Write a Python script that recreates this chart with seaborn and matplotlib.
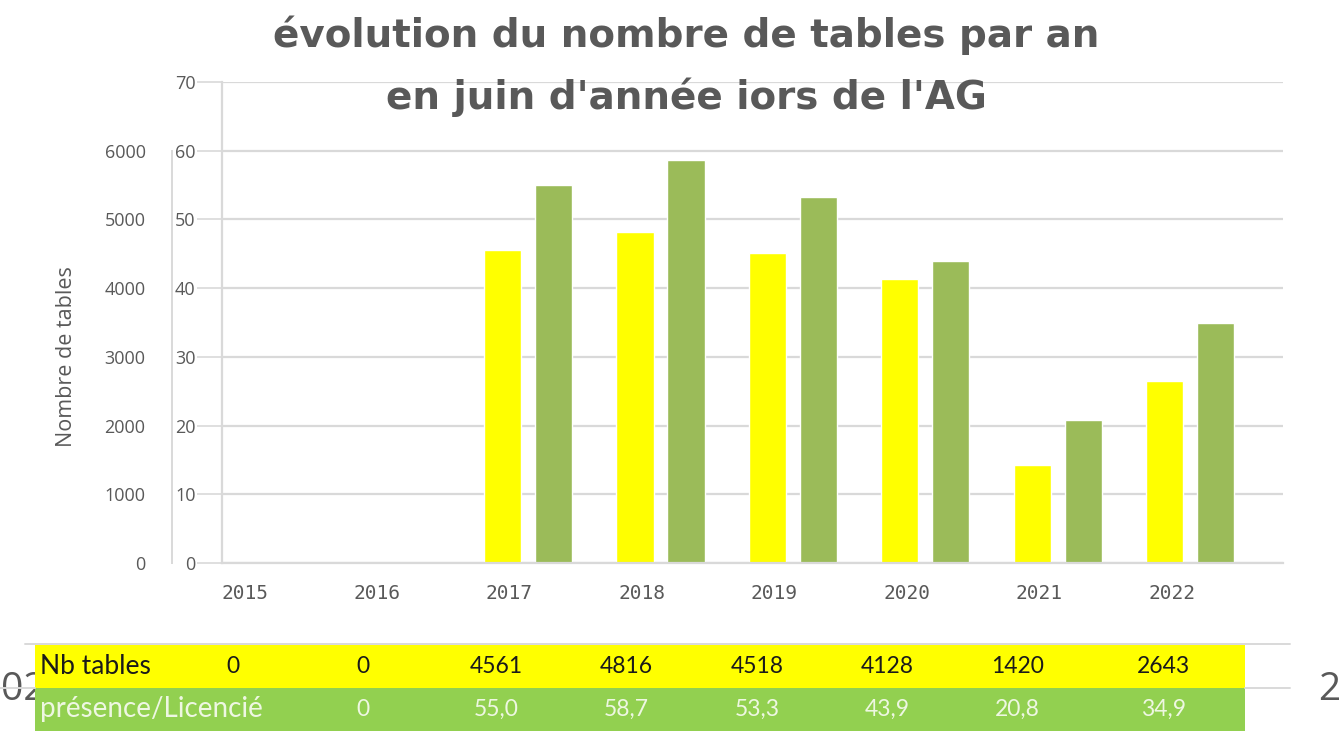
import matplotlib
matplotlib.use('Agg')
import matplotlib.pyplot as plt
import seaborn as sns
import pandas as pd
from matplotlib.lines import Line2D

# data
years = ['2015', '2016', '2017', '2018', '2019', '2020', '2021', '2022']
nb_tables = [0, 0, 4561, 4816, 4518, 4128, 1420, 2643]
presence = [0, 0, 55.0, 58.7, 53.3, 43.9, 20.8, 34.9]
presence_txt = ['', '0', '55,0', '58,7', '53,3', '43,9', '20,8', '34,9']

sns.set_theme(style='white')
plt.rcParams['font.family'] = ['Open Sans', 'DejaVu Sans']

GREY = '#595959'
GRID = '#d9d9d9'
YELLOW = '#ffff00'
OLIVE = '#9bbb59'
TBL_GREEN = '#92d050'
W, H = 1339, 731

fig = plt.figure(figsize=(W / 100, H / 100), dpi=100)

def px_axes(x0, y0, x1, y1):
    return fig.add_axes([x0 / W, 1 - y1 / H, (x1 - x0) / W, (y1 - y0) / H])

# main chart: both series on the 0-70 scale (tables shown in hundreds)
ax = px_axes(222, 82, 1283, 563)
df = pd.DataFrame({
    'pos': list(range(len(years))) * 2,
    'val': [v / 100 for v in nb_tables] + presence,
    'serie': ['Nb tables'] * len(years) + ['présence/Licencié'] * len(years),
})
sns.barplot(data=df, x='pos', y='val', hue='serie', native_scale=True,
            palette=[YELLOW, OLIVE], width=0.77, gap=0.27, saturation=1,
            legend=False, ax=ax)
ax.set_xlim(-0.31, 7.70)
ax.set_ylim(0, 70)
ax.set_yticks(range(0, 71, 10))
ax.set_xticks([i - 0.14 for i in range(len(years))])
ax.set_xticklabels(years)
ax.set_xlabel('')
ax.set_ylabel('')
ax.grid(axis='y', color=GRID, linewidth=1.6)
ax.set_axisbelow(True)
for s in ['top', 'right']:
    ax.spines[s].set_visible(False)
ax.spines['left'].set_color(GRID)
ax.spines['bottom'].set_color(GRID)
ax.spines['left'].set_linewidth(1.6)
ax.spines['bottom'].set_linewidth(1.6)
ax.tick_params(axis='y', length=18, width=1.2, color=GRID, pad=1,
               labelsize=13, labelcolor=GREY)
ax.tick_params(axis='x', length=0, pad=15, labelsize=14, labelcolor=GREY)
for t in ax.get_xticklabels():
    t.set_fontfamily(['DejaVu Sans Mono', 'DejaVu Sans'])

# second scale from the overlaid chart: number of tables
ax_t = ax.twinx()
ax_t.set_ylim(0, 7000)
ax_t.set_yticks(range(0, 6001, 1000))
ax_t.yaxis.set_ticks_position('left')
ax_t.yaxis.set_label_position('left')
for s in ['top', 'right', 'bottom']:
    ax_t.spines[s].set_visible(False)
ax_t.spines['left'].set_position(('outward', 36))
ax_t.spines['left'].set_bounds(0, 6000)
ax_t.spines['left'].set_color(GRID)
ax_t.spines['left'].set_linewidth(1.4)
ax_t.tick_params(axis='y', length=0, pad=19, labelsize=13, labelcolor=GREY)
ax_t.set_ylabel('Nombre de tables', fontsize=15.5, color=GREY)
ax_t.yaxis.set_label_coords(-0.137, 3000 / 7000)

title_font = ['DejaVu Sans']
fig.text(686 / W, 1 - 35 / H, 'évolution du nombre de tables par an',
         ha='center', va='center', fontsize=28, fontweight='bold', color=GREY,
         family=title_font)
fig.text(686 / W, 1 - 97 / H, "en juin d'année iors de l'AG",
         ha='center', va='center', fontsize=28, fontweight='bold', color=GREY,
         family=title_font)

# data table under the chart
axt = px_axes(35, 645, 1245, 731)
axt.set_xlim(-1.507, 7.70)
axt.set_ylim(0, 2)
axt.axhspan(1, 2, color=YELLOW, lw=0)
axt.axhspan(0, 1, color=TBL_GREEN, lw=0)
axt.set_axis_off()
tfont = ['Lato', 'DejaVu Sans']
axt.text(-1.47, 1.5, 'Nb tables', ha='left', va='center', fontsize=19,
         color='#1a1a1a', family=tfont)
axt.text(-1.47, 0.5, 'présence/Licencié', ha='left', va='center', fontsize=20,
         color='#eef7e2', family=tfont)
xs = [0, 0.99, 2.0, 2.99, 3.99, 4.98, 5.97, 7.08]
for x, n, p in zip(xs, nb_tables, presence_txt):
    axt.text(x, 1.5, str(n), ha='center', va='center', fontsize=16.5,
             color='#1a1a1a', family=tfont)
    axt.text(x, 0.5, p, ha='center', va='center', fontsize=16.5,
             color='#eef7e2', family=tfont)

# separator lines of the table
fig.add_artist(Line2D([25 / W, 1290 / W], [1 - 644 / H] * 2, color=GRID, lw=1.4))
fig.add_artist(Line2D([0, 35 / W], [1 - 688 / H] * 2, color=GRID, lw=1.4))
fig.add_artist(Line2D([1245 / W, 1290 / W], [1 - 688 / H] * 2, color=GRID, lw=1.4))
# labels of the chart lying behind the screenshot, partly hidden by the table
fig.text(1 / W, 1 - 690 / H, '02', ha='left', va='center', fontsize=28,
         color=GREY, zorder=-1)
fig.text(1318 / W, 1 - 690 / H, '2', ha='left', va='center', fontsize=28,
         color=GREY)

fig.savefig('out.png', dpi=100)
